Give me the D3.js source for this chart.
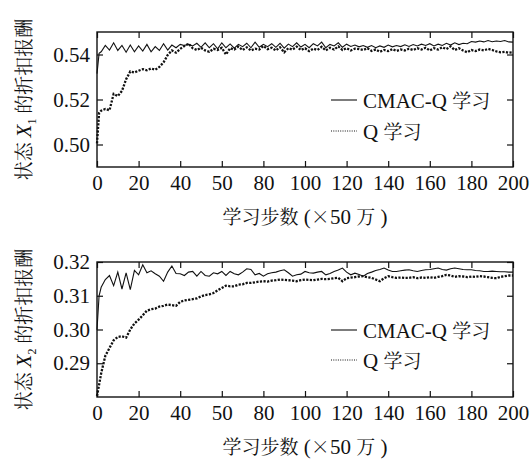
<!DOCTYPE html>
<html>
<head>
<meta charset="utf-8">
<script src="https://cdn.jsdelivr.net/npm/d3@7"></script>
<style>
html,body{margin:0;padding:0;background:#fff;}
svg{display:block;}
</style>
</head>
<body>
<svg id="chart" width="532" height="459"></svg>
<script>
// ---- data ----
const steps = [0,1,2,4,6,8,10,12,14,16,18,20,22,24,26,28,30,32,34,36,38,40,42,44,46,48,50,52,54,56,58,60,62,64,66,68,70,72,74,76,78,80,82,84,86,88,90,92,94,96,98,100,102,104,106,108,110,112,114,116,118,120,122,124,126,128,130,132,134,136,138,140,142,144,146,148,150,152,154,156,158,160,162,164,166,168,170,172,174,176,178,180,182,184,186,188,190,192,194,196,198,200];

const cmacX1 = [0.5315,0.5405,0.5412,0.5440,0.5420,0.5452,0.5418,0.5440,0.5410,0.5442,0.5412,0.5438,0.5415,0.5445,0.5412,0.5435,0.5418,0.5448,0.5420,0.5442,0.5430,0.5445,0.5440,0.5446,0.5438,0.5450,0.5432,0.5452,0.5430,0.5448,0.5425,0.5452,0.5430,0.5447,0.5428,0.5445,0.5435,0.5450,0.5430,0.5455,0.5432,0.5445,0.5435,0.5448,0.5432,0.5450,0.5428,0.5446,0.5435,0.5452,0.5433,0.5445,0.5430,0.5448,0.5438,0.5455,0.5430,0.5445,0.5438,0.5452,0.5432,0.5446,0.5436,0.5442,0.5434,0.5440,0.5432,0.5440,0.5430,0.5438,0.5432,0.5442,0.5434,0.5440,0.5435,0.5443,0.5436,0.5444,0.5438,0.5446,0.5440,0.5448,0.5438,0.5446,0.5440,0.5450,0.5442,0.5452,0.5444,0.5450,0.5448,0.5458,0.5455,0.5460,0.5456,0.5462,0.5457,0.5460,0.5458,0.5462,0.5456,0.5455];

const qX1 = [0.5005,0.5140,0.5150,0.5158,0.5152,0.5225,0.5215,0.5238,0.5290,0.5325,0.5320,0.5328,0.5335,0.5330,0.5338,0.5332,0.5345,0.5365,0.5398,0.5418,0.5408,0.5425,0.5438,0.5448,0.5428,0.5420,0.5430,0.5418,0.5412,0.5425,0.5420,0.5430,0.5400,0.5428,0.5422,0.5435,0.5420,0.5432,0.5418,0.5426,0.5422,0.5438,0.5424,0.5430,0.5418,0.5432,0.5410,0.5428,0.5422,0.5435,0.5420,0.5428,0.5415,0.5426,0.5420,0.5434,0.5418,0.5430,0.5422,0.5436,0.5420,0.5428,0.5418,0.5426,0.5424,0.5420,0.5428,0.5416,0.5422,0.5412,0.5420,0.5415,0.5424,0.5416,0.5422,0.5418,0.5426,0.5420,0.5428,0.5422,0.5430,0.5418,0.5428,0.5422,0.5432,0.5424,0.5436,0.5420,0.5428,0.5418,0.5410,0.5420,0.5415,0.5422,0.5418,0.5425,0.5420,0.5414,0.5410,0.5412,0.5408,0.5410];

const cmacX2 = [0.2999,0.3100,0.3125,0.3148,0.3160,0.3130,0.3170,0.3120,0.3168,0.3118,0.3175,0.3162,0.3192,0.3168,0.3174,0.3165,0.3158,0.3143,0.3170,0.3188,0.3166,0.3165,0.3160,0.3170,0.3172,0.3158,0.3172,0.3160,0.3158,0.3168,0.3165,0.3172,0.3160,0.3172,0.3165,0.3162,0.3170,0.3180,0.3178,0.3162,0.3166,0.3158,0.3165,0.3168,0.3170,0.3174,0.3177,0.3168,0.3158,0.3162,0.3164,0.3172,0.3168,0.3167,0.3170,0.3172,0.3162,0.3166,0.3172,0.3176,0.3182,0.3170,0.3162,0.3167,0.3163,0.3158,0.3166,0.3170,0.3175,0.3178,0.3182,0.3176,0.3172,0.3172,0.3174,0.3176,0.3177,0.3174,0.3172,0.3175,0.3177,0.3178,0.3180,0.3182,0.3178,0.3176,0.3180,0.3182,0.3180,0.3178,0.3177,0.3177,0.3175,0.3174,0.3172,0.3172,0.3173,0.3172,0.3171,0.3171,0.3170,0.3170];

const qX2 = [0.2803,0.2836,0.2870,0.2922,0.2945,0.2968,0.2978,0.2980,0.2976,0.3000,0.3018,0.3029,0.3042,0.3056,0.3060,0.3062,0.3068,0.3070,0.3074,0.3072,0.3070,0.3082,0.3086,0.3088,0.3090,0.3092,0.3098,0.3102,0.3104,0.3108,0.3116,0.3123,0.3130,0.3128,0.3128,0.3133,0.3134,0.3138,0.3138,0.3140,0.3142,0.3143,0.3142,0.3145,0.3146,0.3148,0.3147,0.3146,0.3145,0.3143,0.3146,0.3148,0.3147,0.3146,0.3148,0.3150,0.3149,0.3150,0.3152,0.3153,0.3143,0.3152,0.3154,0.3155,0.3157,0.3158,0.3155,0.3153,0.3148,0.3143,0.3152,0.3158,0.3155,0.3153,0.3154,0.3153,0.3153,0.3155,0.3152,0.3154,0.3153,0.3155,0.3153,0.3156,0.3158,0.3162,0.3160,0.3156,0.3158,0.3157,0.3155,0.3157,0.3156,0.3158,0.3157,0.3155,0.3153,0.3152,0.3156,0.3158,0.3160,0.3160];

const xTickValues = [0,20,40,60,80,100,120,140,160,180,200];
const xTickLabels = ["0","20","40","50","80","100","120","140","160","180","200"];
const y1Domain = [0.49, 0.55];
const y1Ticks = [0.50, 0.52, 0.54];
const y2Domain = [0.28, 0.32];
const y2Ticks = [0.29, 0.30, 0.31, 0.32];
const xTitle = "学习步数 (×50 万 )";
const seriesNames = ["CMAC-Q 学习", "Q 学习"];

// ---- drawing ----
const LATIN = "Liberation Serif";
const CJK = "Noto Serif CJK SC";
const svg = d3.select("#chart");
const left = 97, right = 513;
const x = d3.scaleLinear().domain([0, 200]).range([left, right]);

const CJK_RE = /[\u00d7\u3400-\u9fff]/;
function mixed(textSel, str) {
  const parts = str.match(/[\u00d7\u3400-\u9fff]+|[^\u00d7\u3400-\u9fff]+/g);
  parts.forEach(p => {
    const cjk = CJK_RE.test(p);
    textSel.append("tspan").style("font-family", cjk ? `"${CJK}"` : `"${LATIN}"`)
      .attr("font-size", cjk ? 19 : 21).text(p);
  });
}

function panel(opts) {
  const {top, bottom, yDomain, yTicks, solid, dotted, sub, legY} = opts;
  const y = d3.scaleLinear().domain(yDomain).range([bottom, top]);
  const g = svg.append("g");
  const fmt = (d) => xTickLabels[xTickValues.indexOf(d)];

  const line = d3.line().x((d, i) => x(steps[i])).y(d => y(d));

  g.append("path").datum(solid).attr("d", line)
    .attr("fill", "none").attr("stroke", "#111").attr("stroke-width", 1.1);
  g.append("path").datum(dotted).attr("d", line)
    .attr("fill", "none").attr("stroke", "#111").attr("stroke-width", 2.3)
    .attr("stroke-dasharray", "2.2,1.4");

  const axB = g.append("g").attr("transform", `translate(0,${bottom})`)
    .call(d3.axisBottom(x).tickValues(xTickValues).tickFormat(fmt).tickSizeInner(-6).tickSizeOuter(0).tickPadding(8));
  const axT = g.append("g").attr("transform", `translate(0,${top})`)
    .call(d3.axisTop(x).tickValues(xTickValues).tickFormat("").tickSizeInner(-6).tickSizeOuter(0));
  const axL = g.append("g").attr("transform", `translate(${left},0)`)
    .call(d3.axisLeft(y).tickValues(yTicks).tickFormat(d3.format(".2f")).tickSizeInner(-6).tickSizeOuter(0).tickPadding(7));
  const axR = g.append("g").attr("transform", `translate(${right},0)`)
    .call(d3.axisRight(y).tickValues(yTicks).tickFormat("").tickSizeInner(-6).tickSizeOuter(0));
  [axB, axT, axL, axR].forEach(a => {
    a.attr("font-family", null).attr("font-size", null);
    a.select(".domain").remove();
    a.selectAll("line").attr("stroke", "#111").attr("stroke-width", 1.2);
    a.selectAll("text").attr("font-size", 21).attr("fill", "#111")
      .style("font-family", `"${LATIN}"`);
  });
  axB.selectAll("text").attr("dy", "0.71em");

  g.append("rect").attr("x", left).attr("y", top)
    .attr("width", right - left).attr("height", bottom - top)
    .attr("fill", "none").attr("stroke", "#111").attr("stroke-width", 1.4);

  const xt = g.append("text").attr("x", 305).attr("y", bottom + 57)
    .attr("text-anchor", "middle").attr("fill", "#111");
  mixed(xt, xTitle);

  const yt = g.append("text")
    .attr("transform", `translate(31,${(top + bottom) / 2}) rotate(-90)`)
    .attr("text-anchor", "middle").attr("fill", "#111");
  yt.append("tspan").style("font-family", `"${CJK}"`).attr("font-size", 19).text("状态 ");
  yt.append("tspan").style("font-family", `"${LATIN}"`).attr("font-size", 21).attr("font-style", "italic").text("X");
  yt.append("tspan").style("font-family", `"${LATIN}"`).attr("font-size", 12).attr("dy", 5).text(sub);
  yt.append("tspan").style("font-family", `"${CJK}"`).attr("font-size", 19).attr("dy", -5).text(" 的折扣报酬");

  const lx1 = 331, lx2 = 357, tx = 363;
  g.append("line").attr("x1", lx1).attr("x2", lx2).attr("y1", legY[0]).attr("y2", legY[0])
    .attr("stroke", "#111").attr("stroke-width", 1.1);
  g.append("line").attr("x1", lx1).attr("x2", lx2).attr("y1", legY[1]).attr("y2", legY[1])
    .attr("stroke", "#111").attr("stroke-width", 1).attr("stroke-dasharray", "1,1.3");
  mixed(g.append("text").attr("x", tx).attr("y", legY[0] + 8).attr("fill", "#111"), seriesNames[0]);
  mixed(g.append("text").attr("x", tx).attr("y", legY[1] + 8).attr("fill", "#111"), seriesNames[1]);
}

panel({top: 32, bottom: 167, yDomain: y1Domain, yTicks: y1Ticks, solid: cmacX1, dotted: qX1, sub: "1", legY: [100, 131]});
panel({top: 262, bottom: 397, yDomain: y2Domain, yTicks: y2Ticks, solid: cmacX2, dotted: qX2, sub: "2", legY: [330, 360]});
</script>
</body>
</html>
